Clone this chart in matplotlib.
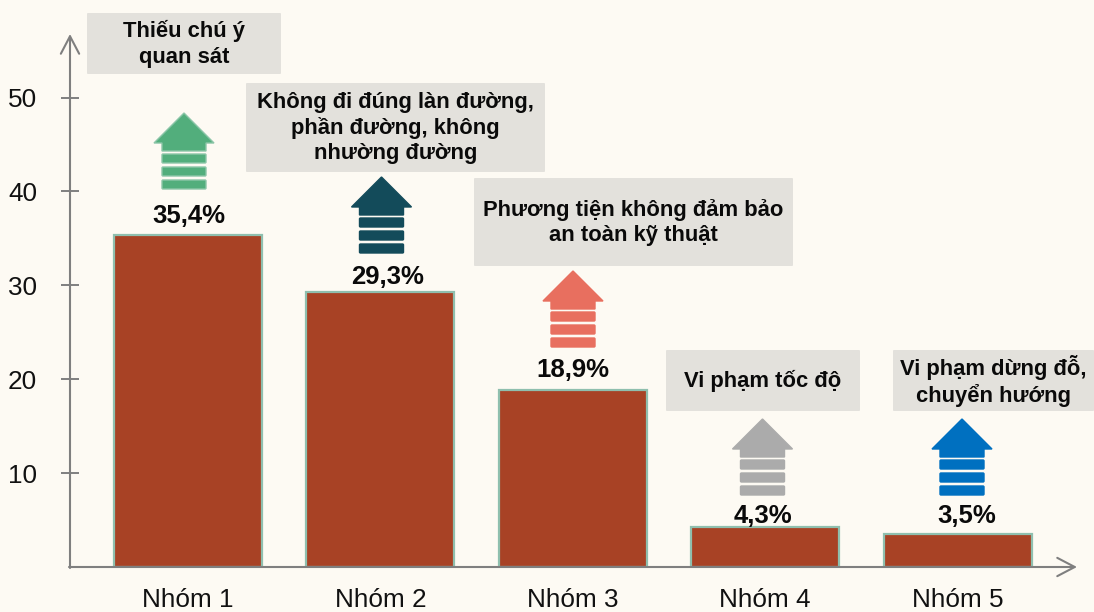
import matplotlib
matplotlib.use('Agg')
from matplotlib import pyplot as plt
from matplotlib.patches import Polygon, FancyBboxPatch

plt.rcParams['font.family'] = ['Liberation Sans', 'DejaVu Sans']

groups = ['Nhóm 1', 'Nhóm 2', 'Nhóm 3', 'Nhóm 4', 'Nhóm 5']
values = [35.4, 29.3, 18.9, 4.3, 3.5]
value_labels = ['35,4%', '29,3%', '18,9%', '4,3%', '3,5%']
yticks = [10, 20, 30, 40, 50]
causes = ['Thiếu chú ý\nquan sát',
          'Không đi đúng làn đường,\nphần đường, không\nnhường đường',
          'Phương tiện không đảm bảo\nan toàn kỹ thuật',
          'Vi phạm tốc độ',
          'Vi phạm dừng đỗ,\nchuyển hướng']
arrow_colors = ['#52AE7C', '#134B5A', '#E86F5F', '#ABABAB', '#0070C0']
arrow_edges = ['#8CC5A8', '#134B5A', '#E86F5F', '#ABABAB', '#0070C0']

W, H = 1094, 612
BG = '#FDFAF3'
GREY = '#7F7F7F'

# layout in picture pixels
box_rects = [(87, 13, 281, 74), (246, 83, 545, 172), (474, 178, 793, 266),
             (666, 350, 860, 411), (893, 350, 1094, 411)]
arrow_pos = [(184, 113), (381.5, 177), (573, 271), (762.5, 419), (962, 419)]
label_pos = [(189, 216), (388, 277), (573, 370), (763, 516), (967, 516)]

fig = plt.figure(figsize=(W / 100, H / 100), dpi=100, facecolor=BG)

# main axes, lined up with the pixels of the axis lines
left, right, bottom, top = 70, 1062, 567, 35
ax = fig.add_axes([left / W, 1 - bottom / H, (right - left) / W, (bottom - top) / H])
ax.set_facecolor('none')
ax.set_xlim((left - 188) / 192.4, (right - 188) / 192.4)
ax.set_ylim(0, (bottom - top) / 9.39)

ax.bar(range(len(groups)), values, width=0.77, color='#A84225',
       edgecolor='#8FBFAE', linewidth=1.6, zorder=2)

for s in ['top', 'right', 'bottom', 'left']:
    ax.spines[s].set_visible(False)
ax.set_xticks(range(len(groups)), groups)
ax.set_yticks(yticks)
ax.tick_params(axis='x', length=0, pad=15, labelsize=18.8, labelcolor='#111111')
ax.tick_params(axis='y', direction='inout', length=13.5, width=1.4, color=GREY,
               pad=17, labelsize=18.8, labelcolor='#111111')

# overlay in pixel coords for axis arrows, boxes and block arrows
ov = fig.add_axes([0, 0, 1, 1], zorder=3)
ov.set_xlim(0, W)
ov.set_ylim(H, 0)
ov.axis('off')

arrow_style = dict(arrowstyle='->,head_length=1.05,head_width=0.55', color=GREY,
                   lw=1.5, shrinkA=0, shrinkB=0, mutation_scale=12)
ov.annotate('', xy=(70, 34), xytext=(70, 568), arrowprops=arrow_style)
ov.annotate('', xy=(1077, 567), xytext=(69, 567), arrowprops=arrow_style)

for (x0, y0, x1, y1), txt in zip(box_rects, causes):
    ov.add_patch(FancyBboxPatch((x0 + 1, y0 + 1), x1 - x0 - 2, y1 - y0 - 2,
                                boxstyle='round,pad=1,rounding_size=1',
                                facecolor='#E3E1DC', edgecolor='none'))
    ov.text((x0 + x1) / 2, (y0 + y1) / 2 + 0.5, txt, ha='center', va='center',
            fontsize=15.8, fontweight='bold', color='#0a0a0a', linespacing=1.26)

for (cx, tip), col, ec in zip(arrow_pos, arrow_colors, arrow_edges):
    head = [(cx, tip), (cx + 30, tip + 30), (cx + 22, tip + 30), (cx + 22, tip + 38),
            (cx - 22, tip + 38), (cx - 22, tip + 30), (cx - 30, tip + 30)]
    ov.add_patch(Polygon(head, closed=True, facecolor=col, edgecolor=ec, linewidth=1))
    for off in [41, 54, 67]:
        ov.add_patch(FancyBboxPatch((cx - 21, tip + off + 1), 42, 7,
                                    boxstyle='round,pad=1,rounding_size=1',
                                    facecolor=col, edgecolor=ec, linewidth=1))

for (x, y), txt in zip(label_pos, value_labels):
    ov.text(x, y, txt, ha='center', va='center', fontsize=18.5,
            fontweight='bold', color='#0a0a0a')

fig.savefig('out.png', dpi=100, facecolor=BG)
